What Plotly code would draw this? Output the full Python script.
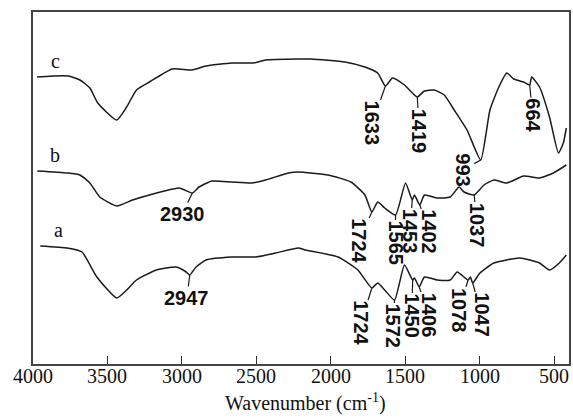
import numpy as np
import plotly.graph_objects as go

# ---- data (wavenumber in cm^-1, transmittance in arbitrary offset units) ----
c_wn = [3973, 3765, 3685, 3618, 3565, 3438, 3371, 3305, 3218, 3065, 2931, 2838, 2665, 2518, 2438,
        2218, 2131, 1905, 1771, 1685, 1633, 1585, 1505, 1419, 1371, 1305, 1238, 1171, 1085, 993,
        931, 871, 818, 771, 705, 664, 651, 598, 531, 471, 438, 418]
c_t = [287, 288, 284, 276, 261, 244, 257, 274, 282, 295, 294, 298, 301, 301, 304,
       305, 305, 302, 297, 291, 278, 286, 279, 267, 273, 274, 269, 254, 234, 204,
       254, 277, 291, 285, 282, 279, 287, 277, 247, 211, 221, 236]

b_wn = [3971, 3771, 3685, 3618, 3551, 3438, 3331, 3218, 3018, 2930, 2885, 2798, 2665, 2531, 2438,
        2285, 2218, 2018, 1865, 1771, 1724, 1685, 1638, 1565, 1498, 1453, 1438, 1402, 1371, 1285,
        1198, 1138, 1105, 1037, 971, 905, 818, 705, 598, 505, 418]
b_t = [193, 191, 189, 181, 167, 158, 164, 169, 176, 171, 177, 183, 182, 181, 184,
       191, 192, 189, 182, 169, 152, 162, 156, 149, 181, 164, 169, 159, 169, 166,
       167, 177, 172, 169, 179, 184, 181, 188, 186, 191, 199]

a_wn = [3951, 3771, 3671, 3571, 3438, 3371, 3305, 3171, 3038, 2971, 2947, 2905, 2838, 2665, 2505,
        2371, 2218, 2171, 1951, 1818, 1724, 1685, 1638, 1572, 1505, 1450, 1438, 1406, 1371, 1285,
        1198, 1151, 1078, 1062, 1047, 998, 905, 731, 598, 531, 465, 418]
a_t = [118, 116, 112, 87, 66, 74, 84, 94, 97, 92, 89, 97, 104, 107, 107,
       111, 116, 114, 107, 94, 76, 81, 74, 64, 99, 84, 86, 77, 87, 84,
       84, 92, 84, 87, 81, 91, 101, 106, 101, 94, 101, 109]

# peak labels per series
c_peaks = [1633, 1419, 993, 664]
b_peaks = [2930, 1724, 1565, 1453, 1402, 1037]
a_peaks = [2947, 1724, 1572, 1450, 1406, 1078, 1047]

# label offsets in pixels (layout)
c_off = [(-13, 37), (2, 34), (-18, 10), (3, 30)]
b_off = [(-10, 21), (-13, 29), (0, 28), (-2, 31), (9, 27), (3, 30)]
a_off = [(-3, 23), (-11, 35), (-2, 26), (-1, 36), (10, 28), (-9, 30), (9, 32)]

x_ticks = [4000, 3500, 3000, 2500, 2000, 1500, 1000, 500]
x_tick_labels = ["4000", "3500", "3000", "2500", "2000", "1500", "1000", "500"]
x_title = "Wavenumber (cm<sup>-1</sup>)"

series = [("c", c_wn, c_t, c_peaks, c_off),
          ("b", b_wn, b_t, b_peaks, b_off),
          ("a", a_wn, a_t, a_peaks, a_off)]

fig = go.Figure()
annotations = []
label_font = dict(family="Liberation Sans Narrow, Liberation Sans, Arial", size=20, color="#111111", weight="bold")
serif = "Liberation Serif, Times New Roman, serif"

for name, wn, t, peaks, offs in series:
    fig.add_trace(go.Scatter(x=wn, y=t, mode="lines",
                             line=dict(color="#1a1a1a", width=1.5, shape="spline", smoothing=0.5),
                             showlegend=False, hoverinfo="skip"))
    annotations.append(dict(x=wn[0], y=t[0], xref="x", yref="y", text=name, showarrow=False,
                            xshift=18, yshift=16, font=dict(family=serif, size=20, color="#111111")))
    wn_sorted = np.array(wn[::-1], dtype=float)
    t_sorted = np.array(t[::-1], dtype=float)
    for p, (ax, ay) in zip(peaks, offs):
        yv = float(np.interp(p, wn_sorted, t_sorted))
        horiz = p > 2500
        annotations.append(dict(
            x=p, y=yv, xref="x", yref="y", text=str(p),
            showarrow=True, arrowhead=0, arrowwidth=1.2, arrowcolor="#1a1a1a",
            ax=ax, ay=ay, standoff=0, startstandoff=0,
            textangle=0 if horiz else 90,
            font=label_font, borderpad=0))

# tick labels placed on the x axis scale, slightly closer to the axis than plotly's default
for tv, tl in zip(x_ticks, x_tick_labels):
    annotations.append(dict(x=tv, y=-0.034, xref="x", yref="paper", text=tl, showarrow=False,
                            xanchor="center", yanchor="middle",
                            font=dict(family=serif, size=20, color="#111111")))

# axis title
annotations.append(dict(x=0.509, y=-0.108, xref="paper", yref="paper", text=x_title, showarrow=False,
                        xanchor="center", yanchor="middle",
                        font=dict(family=serif, size=20, color="#111111")))

fig.update_layout(
    width=573, height=419,
    margin=dict(l=33, r=2, t=12, b=55),
    paper_bgcolor="white", plot_bgcolor="white",
    annotations=annotations,
    xaxis=dict(range=[4000, 400], tickvals=x_ticks, showticklabels=False,
               ticks="inside", ticklen=8, tickwidth=1.4, tickcolor="#333333",
               showline=True, linecolor="#444444", linewidth=1.6, mirror=True,
               showgrid=False, zeroline=False),
    yaxis=dict(range=[0, 352], showticklabels=False, ticks="", showline=True, linecolor="#444444",
               linewidth=1.6, mirror=True, showgrid=False, zeroline=False),
)

fig.write_html("out.html", config={"displayModeBar": False},
               post_script="document.body.style.margin='0';document.body.style.overflow='hidden';")
